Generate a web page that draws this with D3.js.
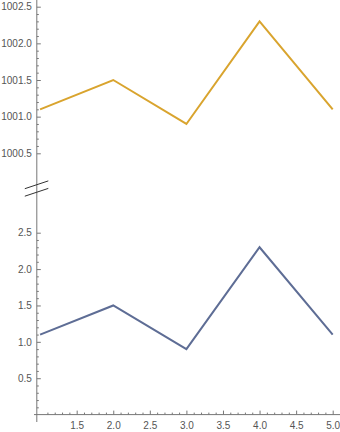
<!DOCTYPE html>
<html>
  <head>
    <meta charset="utf-8">
    <title>Broken axis line chart</title>
    <script src="https://d3js.org/d3.v7.min.js"></script>
    <style>
      body { margin: 0; background: #fff; }
      text { font-family: "Liberation Sans", Arial, sans-serif; font-size: 10px; fill: #555; }
    </style>
  </head>
  <body>
    <script>
      // data
      var xs = [1, 2, 3, 4, 5],
        lowSeries = [1.1, 1.5, 0.9, 2.3, 1.1],
        highSeries = [1001.1, 1001.5, 1000.9, 1002.3, 1001.1];

      var xTicks = [1.5, 2.0, 2.5, 3.0, 3.5, 4.0, 4.5, 5.0],
        lowTicks = [0.5, 1.0, 1.5, 2.0, 2.5],
        highTicks = [1000.5, 1001.0, 1001.5, 1002.0, 1002.5];

      var width = 340, height = 432;

      var svg = d3.select("body").append("svg")
        .attr("width", width)
        .attr("height", height);

      // scales: one x, two y pieces either side of the break
      var x = d3.scaleLinear().domain([1, 5]).range([40.1, 332.7]);
      var yLow = d3.scaleLinear().domain([0, 2.5]).range([414.6, 232.7]);
      var yHigh = d3.scaleLinear().domain([1000.5, 1002.5]).range([153.3, 6.7]);

      var axisX = 36.8, axisColor = "#777";

      // minor tick values every 0.1
      function minors(lo, hi, skip) {
        var out = [];
        for (var i = Math.round(lo * 10); i <= Math.round(hi * 10); i++) {
          if (skip && i % 5 === 0) continue;
          out.push(i / 10);
        }
        return out;
      }

      function styleAxis(g) {
        g.select(".domain").remove();
        g.selectAll("line").attr("stroke", axisColor);
        g.selectAll("text").attr("fill", "#555").style("font-size", "10px")
          .style("font-family", "'Liberation Sans', Arial, sans-serif");
      }

      // axis lines
      svg.append("line")
        .attr("x1", axisX).attr("x2", axisX)
        .attr("y1", 0).attr("y2", 422)
        .attr("stroke", axisColor);
      svg.append("line")
        .attr("x1", 34).attr("x2", width)
        .attr("y1", yLow(0)).attr("y2", yLow(0))
        .attr("stroke", axisColor);

      // y axes (ticks pointing inward)
      svg.append("g").attr("transform", "translate(" + axisX + ",0)")
        .call(d3.axisLeft(yHigh).tickValues(highTicks).tickSize(-4).tickPadding(5)
          .tickFormat(d3.format(".1f")))
        .call(styleAxis);
      svg.append("g").attr("transform", "translate(" + axisX + ",0)")
        .call(d3.axisLeft(yHigh).tickValues(minors(1000.5, 1002.5, true)).tickSize(-2).tickFormat(""))
        .call(styleAxis);

      svg.append("g").attr("transform", "translate(" + axisX + ",0)")
        .call(d3.axisLeft(yLow).tickValues(lowTicks).tickSize(-4).tickPadding(5)
          .tickFormat(d3.format(".1f")))
        .call(styleAxis);
      svg.append("g").attr("transform", "translate(" + axisX + ",0)")
        .call(d3.axisLeft(yLow).tickValues(minors(0.1, 2.5, true)).tickSize(-2).tickFormat(""))
        .call(styleAxis);

      // x axis: ticks point up, labels below
      var xAxisG = svg.append("g").attr("transform", "translate(0," + yLow(0) + ")")
        .call(d3.axisBottom(x).tickValues(xTicks).tickSize(-4).tickPadding(5)
          .tickFormat(d3.format(".1f")))
        .call(styleAxis);
      xAxisG.selectAll("text").attr("dy", "0.9em");
      svg.append("g").attr("transform", "translate(0," + yLow(0) + ")")
        .call(d3.axisBottom(x).tickValues(minors(1.1, 4.9, true)).tickSize(-2).tickFormat(""))
        .call(styleAxis);

      // break marks
      var breaks = [184.8, 192.3];
      svg.selectAll("line.break")
        .data(breaks)
        .enter().append("line")
          .attr("class", "break")
          .attr("x1", axisX - 12).attr("x2", axisX + 11.5)
          .attr("y1", function(d) { return d + 3.9; })
          .attr("y2", function(d) { return d - 3.9; })
          .attr("stroke", "#333")
          .attr("stroke-width", 1);

      // the two series
      var highLine = d3.line()
        .x(function(d, i) { return x(xs[i]); })
        .y(function(d) { return yHigh(d); });
      var lowLine = d3.line()
        .x(function(d, i) { return x(xs[i]); })
        .y(function(d) { return yLow(d); });

      svg.append("path")
        .datum(highSeries)
        .attr("d", highLine)
        .attr("fill", "none")
        .attr("stroke", "#d9a42e")
        .attr("stroke-width", 2)
        .attr("stroke-linejoin", "miter");

      svg.append("path")
        .datum(lowSeries)
        .attr("d", lowLine)
        .attr("fill", "none")
        .attr("stroke", "#5e6d95")
        .attr("stroke-width", 2)
        .attr("stroke-linejoin", "miter");
    </script>
  </body>
</html>
